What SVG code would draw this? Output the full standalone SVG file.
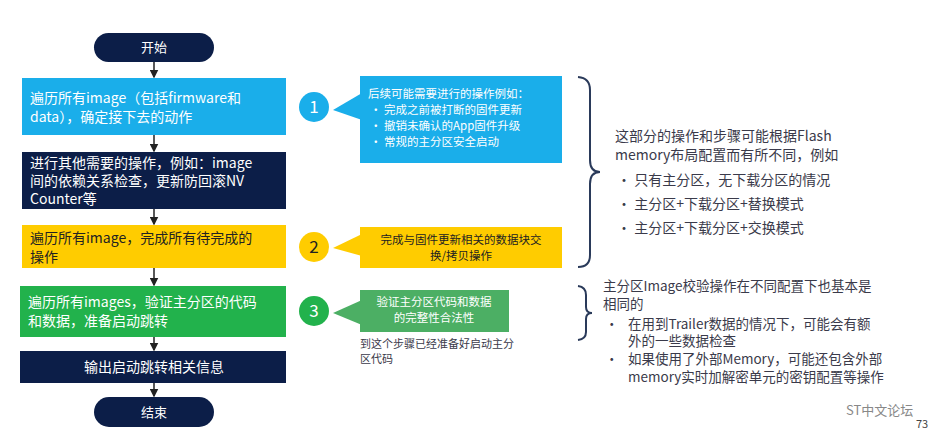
<svg xmlns="http://www.w3.org/2000/svg" width="931" height="429" viewBox="0 0 931 429">
<defs>
<marker id="ah" markerWidth="6" markerHeight="6" refX="5" refY="3" orient="auto"><path d="M0,0 L6,3 L0,6 z" fill="#222"/></marker>
<style>
text{font-family:"Noto Sans CJK SC","Liberation Sans",sans-serif;font-size:14px}
.w{fill:#fff}.k{fill:#222}.n{fill:#0c1e48}.s{font-size:11.5px}
.r{fill:#3a3a4a}.t{font-size:11px}.d{font-size:17px}.p{font-size:13px}.m{font-size:13.5px}
</style>
</defs>
<rect width="931" height="429" fill="#fff"/>
<g id="connectors" stroke="#222" stroke-width="1.5" marker-end="url(#ah)">
<line x1="154" y1="62" x2="154" y2="77"/>
<line x1="154" y1="135" x2="154" y2="151"/>
<line x1="154" y1="209" x2="154" y2="224"/>
<line x1="154" y1="268" x2="154" y2="285"/>
<line x1="154" y1="337" x2="154" y2="350"/>
<line x1="154" y1="383" x2="154" y2="396"/>
</g>
<g id="start"><rect x="94" y="33" width="120" height="29" rx="14.5" class="n"/><text x="154" y="52" text-anchor="middle" class="w p">开始</text></g>
<g id="step1"><rect x="22" y="78" width="264" height="57" fill="#1aaeea"/>
<text x="30" y="103" class="w">遍历所有image（包括firmware和</text><text x="30" y="122" class="w">data），确定接下去的动作</text></g>
<g id="step2"><rect x="22" y="152" width="264" height="57" class="n"/>
<text x="30" y="168" class="w">进行其他需要的操作，例如：image</text><text x="30" y="186" class="w">间的依赖关系检查，更新防回滚NV</text><text x="30" y="204" class="w">Counter等</text></g>
<g id="step3"><rect x="22" y="225" width="264" height="43" fill="#ffcc00"/>
<text x="30" y="243" class="k">遍历所有image，完成所有待完成的</text><text x="30" y="262" class="k">操作</text></g>
<g id="step4"><rect x="20" y="286" width="266" height="51" fill="#22b24c"/>
<text x="28" y="307" class="w">遍历所有images，验证主分区的代码</text><text x="28" y="326" class="w">和数据，准备启动跳转</text></g>
<g id="step5"><rect x="20" y="351" width="266" height="32" class="n"/><text x="154" y="372" text-anchor="middle" class="w">输出启动跳转相关信息</text></g>
<g id="end"><rect x="94" y="397" width="120" height="30" rx="15" class="n"/><text x="154" y="417" text-anchor="middle" class="w p">结束</text></g>
<g id="c1"><circle cx="314" cy="107" r="15" fill="#1aaeea"/><text x="314" y="113" text-anchor="middle" class="w d">1</text>
<polygon points="333,110 362,93 362,120" fill="#1aaeea"/>
<rect x="360" y="76" width="202" height="87" fill="#1aaeea"/>
<text x="368" y="98" class="w s">后续可能需要进行的操作例如：</text>
<text x="370" y="114" class="w s">•  完成之前被打断的固件更新</text>
<text x="370" y="130" class="w s">•  撤销未确认的App固件升级</text>
<text x="370" y="146" class="w s">•  常规的主分区安全启动</text></g>
<g id="c2"><circle cx="314" cy="247" r="15" fill="#ffcc00"/><text x="314" y="253" text-anchor="middle" class="k d">2</text>
<polygon points="333,248 362,234 362,256" fill="#ffcc00"/>
<rect x="360" y="227" width="202" height="41" fill="#ffcc00"/>
<text x="461" y="244" text-anchor="middle" class="k s">完成与固件更新相关的数据块交</text>
<text x="461" y="260" text-anchor="middle" class="k s">换/拷贝操作</text></g>
<g id="c3"><circle cx="314" cy="311" r="15" fill="#22b24c"/><text x="314" y="317" text-anchor="middle" class="w d">3</text>
<polygon points="333,313 362,300 362,325" fill="#4caf64"/>
<rect x="360" y="290" width="149" height="42" fill="#4caf64"/>
<text x="434" y="306" text-anchor="middle" class="w s">验证主分区代码和数据</text>
<text x="434" y="322" text-anchor="middle" class="w s">的完整性合法性</text>
<text x="360" y="348" class="r t">到这个步骤已经准备好启动主分</text>
<text x="360" y="363" class="r t">区代码</text></g>
<g id="notes" fill="none" stroke="#2a3a5a" stroke-width="2">
<path d="M578,77 Q590,78 590,90 L590,160 Q590,172 600,172 Q590,172 590,184 L590,255 Q590,267 578,267"/>
<path d="M578,286 Q586,287 586,295 L586,307 Q586,313 592,313 Q586,313 586,319 L586,332 Q586,339 578,340"/>
</g>
<g id="text1">
<text x="615" y="141" class="r">这部分的操作和步骤可能根据Flash</text>
<text x="615" y="160" class="r">memory布局配置而有所不同，例如</text>
<text x="617" y="185" class="r">•  只有主分区，无下载分区的情况</text>
<text x="617" y="209" class="r">•  主分区+下载分区+替换模式</text>
<text x="617" y="233" class="r">•  主分区+下载分区+交换模式</text>
</g>
<g id="text2">
<text x="603" y="291" class="r m">主分区Image校验操作在不同配置下也基本是</text>
<text x="603" y="309" class="r m">相同的</text>
<text x="605" y="329" class="r m">•</text><text x="628" y="329" class="r m">在用到Trailer数据的情况下，可能会有额</text>
<text x="628" y="346" class="r m">外的一些数据检查</text>
<text x="605" y="364" class="r m">•</text><text x="628" y="364" class="r m">如果使用了外部Memory，可能还包含外部</text>
<text x="628" y="382" class="r m">memory实时加解密单元的密钥配置等操作</text>
</g>
<text x="846" y="415" fill="#888" class="p">ST中文论坛</text>
<text x="916" y="428" fill="#444" class="t">73</text>
</svg>
